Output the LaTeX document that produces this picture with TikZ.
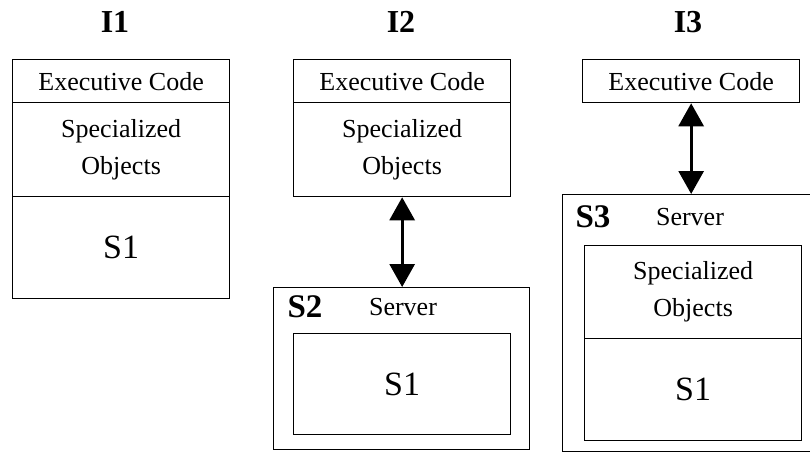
\documentclass[tikz,border=0pt]{standalone}
\usepackage{fontspec}
\setmainfont{Liberation Serif}
\usetikzlibrary{arrows.meta}

\begin{document}
\begin{tikzpicture}[x=1pt,y=-1pt,
    cell/.style={draw,line width=1.3pt,inner sep=0pt,anchor=north west,
        minimum width=217pt,align=center,font=\fontsize{26}{37}\selectfont},
    outer/.style={draw,line width=1.3pt,inner sep=0pt,anchor=north west},
    title/.style={font=\fontsize{32}{32}\selectfont\bfseries},
    tag/.style={font=\fontsize{33}{33}\selectfont\bfseries},
    word/.style={font=\fontsize{26}{26}\selectfont},
    big/.style={font=\fontsize{34}{34}\selectfont},
    link/.style={line width=3pt,{Triangle[width=25pt,length=23pt]}-{Triangle[width=25pt,length=23pt]}}]

    \useasboundingbox (0,0) rectangle (810,452);
    \clip (0,0) rectangle (810,452);

    % I1: everything in one stack
    \node[title] (t1) at (115,22) {I1};
    \node[cell,minimum height=43pt] (exec1) at (12,59) {Executive Code};
    \node[cell,minimum height=94pt] (spec1) at (12,102) {Specialized\\Objects};
    \node[cell,big,minimum height=102pt] (sone1) at (12,196) {S1};

    % I2: S1 moved into a server
    \node[title] (t2) at (401,22) {I2};
    \node[cell,minimum height=43pt] (exec2) at (293,59) {Executive Code};
    \node[cell,minimum height=94pt] (spec2) at (293,102) {Specialized\\Objects};
    \node[outer,minimum width=256pt,minimum height=162pt] (srv2) at (273,287) {};
    \node[tag] (lbl2) at (305,307) {S2};
    \node[word] (name2) at (403,307) {Server};
    \node[cell,big,minimum height=101pt] (sone2) at (293,333) {S1};
    \draw[link] (spec2.south) -- (spec2.south |- srv2.north);

    % I3: objects and S1 both on the server
    \node[title] (t3) at (688,22) {I3};
    \node[cell,minimum height=43pt] (exec3) at (582,59) {Executive Code};
    \node[outer,minimum width=270pt,minimum height=257pt] (srv3) at (562,194) {};
    \node[tag] (lbl3) at (593,217) {S3};
    \node[word] (name3) at (690,217) {Server};
    \node[cell,minimum height=93pt] (spec3) at (584,245) {Specialized\\Objects};
    \node[cell,big,minimum height=102pt] (sone3) at (584,338) {S1};
    \draw[link] (exec3.south) -- (exec3.south |- srv3.north);

\end{tikzpicture}
\end{document}
